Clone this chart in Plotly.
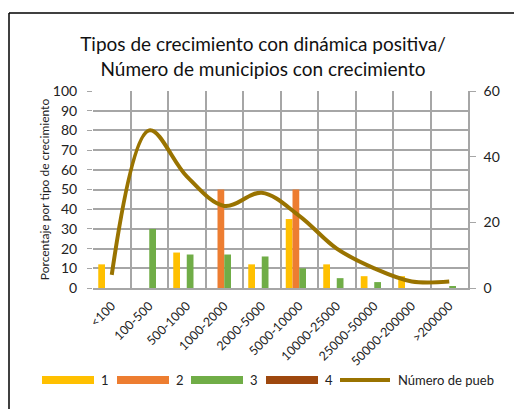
import plotly.graph_objects as go

categories = ["<100", "100-500", "500-1000", "1000-2000", "2000-5000", "5000-10000",
              "10000-25000", "25000-50000", "50000-200000", ">200000"]
serie_1 = [12, 0, 18, 0, 12, 35, 12, 6, 6, 0]
serie_2 = [0, 0, 0, 50, 0, 50, 0, 0, 0, 0]
serie_3 = [0, 30, 17, 17, 16, 10, 5, 3, 0, 1]
serie_4 = [0, 0, 0, 0, 0, 0, 0, 0, 0, 0]
numero_pueblos = [4, 48, 34, 25, 29, 22, 12, 6, 2, 2]

colors = {"1": "#FFC000", "2": "#ED7D31", "3": "#70AD47", "4": "#9E480E"}
line_color = "#997300"
FONT = "Lato, Open Sans, sans-serif"

fig = go.Figure()
for name, vals in [("1", serie_1), ("2", serie_2), ("3", serie_3), ("4", serie_4)]:
    fig.add_trace(go.Bar(x=categories, y=vals, name=name, marker_color=colors[name],
                         marker_line_width=0, showlegend=False))
fig.add_trace(go.Scatter(x=categories, y=numero_pueblos, name="Número de pueb", yaxis="y2",
                         mode="lines", line=dict(color=line_color, width=4, shape="spline",
                                                 smoothing=1.0), showlegend=False))

# page offset of the rendered div (browser default body margin)
OX, OY = 8, 8
# target plot area in screenshot pixels
L, R, T, B = 93, 468, 91, 288
W, H = R - L, B - T
def px(x):
    return (x - L) / W
def py(y):
    return (B - y) / H

shapes = [
    dict(type="line", xref="paper", yref="paper", x0=px(9), x1=px(9), y0=py(13), y1=py(440),
         line=dict(color="black", width=1.5)),
    dict(type="line", xref="paper", yref="paper", x0=px(9), x1=px(560), y0=py(13), y1=py(13),
         line=dict(color="black", width=1.5)),
]
annotations = []
legend_items = [("1", colors["1"], 42, 94), ("2", colors["2"], 117, 169),
                ("3", colors["3"], 191, 243), ("4", colors["4"], 266, 318)]
for label, c, x0, x1 in legend_items:
    shapes.append(dict(type="rect", xref="paper", yref="paper", x0=px(x0), x1=px(x1),
                       y0=py(384), y1=py(376), fillcolor=c, line=dict(width=0)))
    annotations.append(dict(xref="paper", yref="paper", x=px(x1 + 5), y=py(380), text=label,
                            showarrow=False, xanchor="left", yanchor="middle",
                            font=dict(family=FONT, size=13, color="#222")))
shapes.append(dict(type="line", xref="paper", yref="paper", x0=px(340), x1=px(390),
                   y0=py(380), y1=py(380), line=dict(color=line_color, width=4)))
annotations.append(dict(xref="paper", yref="paper", x=px(396), y=py(380), text="Número de pueb",
                        showarrow=False, xanchor="left", yanchor="middle",
                        font=dict(family=FONT, size=13, color="#222")))

fig.update_layout(
    width=522, height=409,
    margin=dict(l=L - OX, r=522 - (R - OX), t=T - OY, b=409 - (B - OY), autoexpand=False),
    paper_bgcolor="white", plot_bgcolor="white",
    barmode="group", bargap=0.28, bargroupgap=0,
    font=dict(family=FONT, color="#222"),
    title=dict(text="Tipos de crecimiento con dinámica positiva/<br>Número de municipios con crecimiento",
               x=(263 - OX) / 522, xanchor="center", y=1 - (51 - OY) / 409, yanchor="middle",
               yref="container", font=dict(family=FONT, size=19, color="#111")),
    xaxis=dict(type="category", tickson="boundaries", showgrid=True, gridcolor="#A6A6A6",
               gridwidth=1.5, ticks="", tickangle=-45, tickfont=dict(size=12.5),
               ticklabelstandoff=4,
               showline=True, linecolor="#A6A6A6", linewidth=1.5, mirror=False, automargin=False),
    yaxis=dict(range=[0, 100], dtick=10, showgrid=True, gridcolor="#A6A6A6", gridwidth=1.5,
               ticks="outside", ticklen=5, tickcolor="#A6A6A6", tickfont=dict(size=14),
               ticklabelstandoff=7,
               zeroline=False, showline=False, automargin=False,
               title=dict(text="Porcentaje por tipo de crecimiento", font=dict(size=12), standoff=0)),
    yaxis2=dict(range=[0, 60], tickvals=[0, 20, 40, 60], overlaying="y", side="right",
                showgrid=False, zeroline=False, showline=True, linecolor="#A6A6A6", linewidth=1.5,
                ticks="outside", ticklen=6, tickcolor="#A6A6A6", tickfont=dict(size=14),
                ticklabelstandoff=5, automargin=False),
    shapes=shapes, annotations=annotations,
)

fig.write_html("out.html")
